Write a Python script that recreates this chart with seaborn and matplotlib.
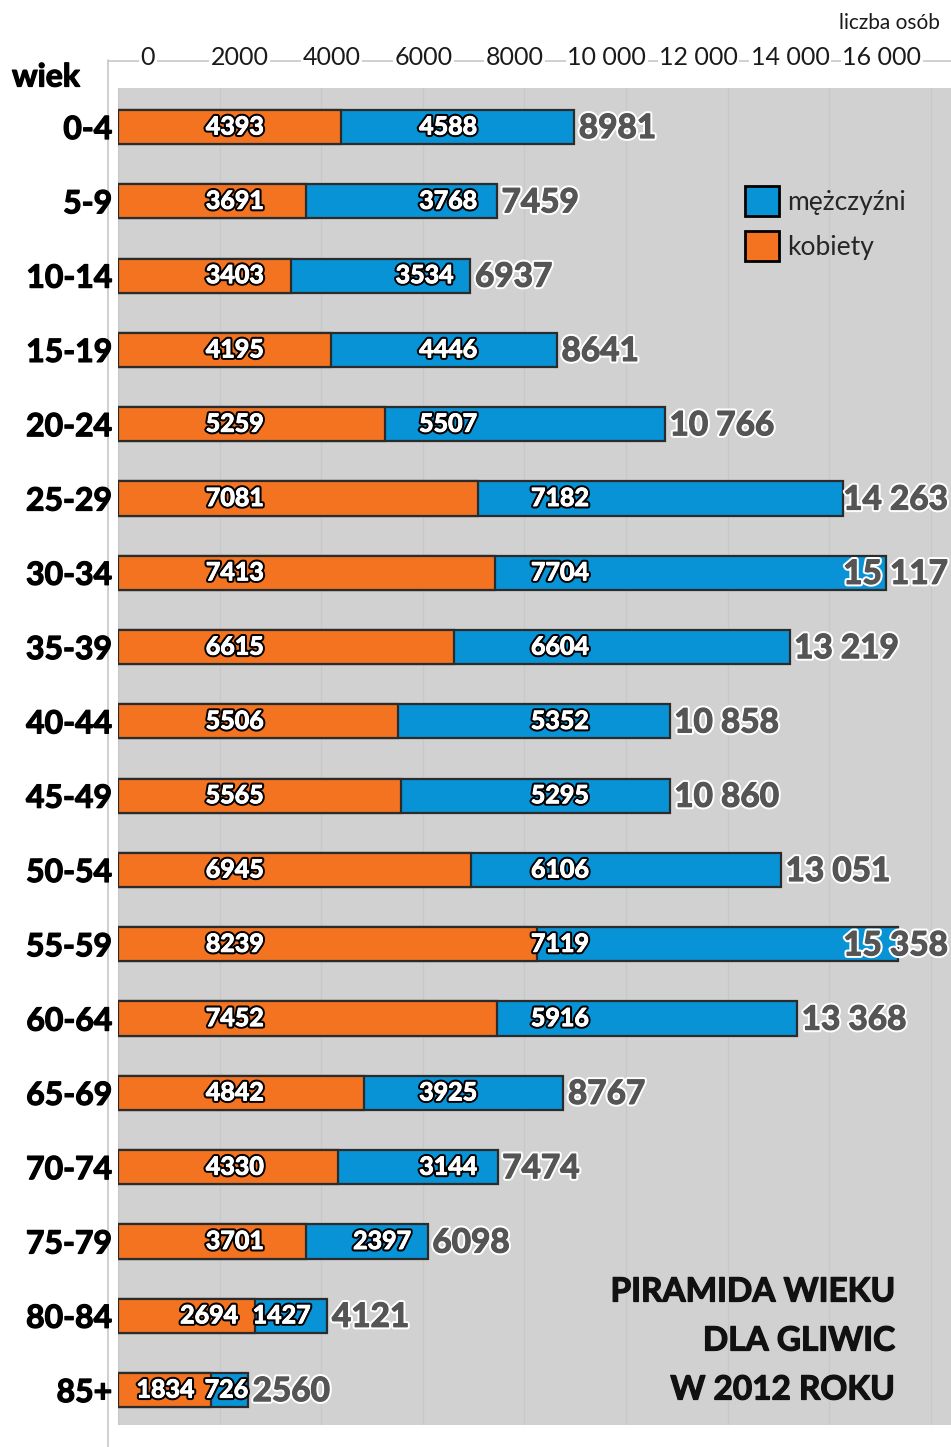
import matplotlib
matplotlib.use("Agg")
import matplotlib.pyplot as plt
import matplotlib.patheffects as pe
from matplotlib.patches import Patch
from matplotlib.lines import Line2D
import seaborn as sns
import pandas as pd

ages = ['0-4', '5-9', '10-14', '15-19', '20-24', '25-29', '30-34', '35-39', '40-44',
        '45-49', '50-54', '55-59', '60-64', '65-69', '70-74', '75-79', '80-84', '85+']
women = [4393, 3691, 3403, 4195, 5259, 7081, 7413, 6615, 5506,
         5565, 6945, 8239, 7452, 4842, 4330, 3701, 2694, 1834]
men = [4588, 3768, 3534, 4446, 5507, 7182, 7704, 6604, 5352,
       5295, 6106, 7119, 5916, 3925, 3144, 2397, 1427, 726]
top_ticks = [0, 2000, 4000, 6000, 8000, 10000, 12000, 14000, 16000]
legend_labels = ['mężczyźni', 'kobiety']
title_lines = ['PIRAMIDA WIEKU', 'DLA GLIWIC', 'W 2012 ROKU']

totals = [w + m for w, m in zip(women, men)]
df = pd.DataFrame({'wiek': ages, 'kobiety': women, 'mezczyzni': men, 'razem': totals})

ORANGE = '#F37321'
BLUE = '#0793D6'
BG = '#D1D1D1'
EDGE = '#2b2b2b'
GRAYTXT = '#555555'

sns.set_style('white')
plt.rcParams['font.family'] = ['Lato', 'DejaVu Sans']

W, H = 951, 1447
fig = plt.figure(figsize=(W / 100, H / 100), dpi=100)

def fx(px):
    return px / W

def fy(py):
    return 1 - py / H

def thick(color, lw=0.9):
    return [pe.withStroke(linewidth=lw, foreground=color)]

left, right, top, bottom = 118, 951, 88, 1425
ax = fig.add_axes([fx(left), fy(bottom), fx(right) - fx(left), fy(top) - fy(bottom)])
ax.set_facecolor(BG)

sns.barplot(data=df, x='razem', y='wiek', orient='h', color=BLUE, saturation=1,
            width=0.46, edgecolor=EDGE, linewidth=1.6, ax=ax, zorder=3)
sns.barplot(data=df, x='kobiety', y='wiek', orient='h', color=ORANGE, saturation=1,
            width=0.46, edgecolor=EDGE, linewidth=1.6, ax=ax, zorder=4)

px_per_unit = 0.0508
ax.set_xlim(0, (right - left) / px_per_unit)
ax.set_ylim(17.47, -0.525)
ax.set_xticks(range(0, 17000, 2000))
ax.set_xticklabels([])
ax.tick_params(axis='x', length=0)
ax.grid(axis='x', color='#c8c8c8', linewidth=1.0, zorder=0)
ax.grid(axis='y', visible=False)
ax.set_axisbelow(True)
ax.set_xlabel('')
ax.set_ylabel('')
for s in ax.spines.values():
    s.set_visible(False)
ax.tick_params(axis='y', length=0, pad=4)
for lab in ax.get_yticklabels():
    lab.set_fontsize(23)
    lab.set_fontweight('bold')
    lab.set_color('black')
    lab.set_path_effects(thick('black'))

def fmt(v):
    s = f"{v:,}".replace(',', ' ')
    return s if v >= 10000 else str(v)

inner_fx = [pe.withStroke(linewidth=3.6, foreground='black'),
            pe.withStroke(linewidth=0.7, foreground='white')]
total_fx = [pe.withStroke(linewidth=3.8, foreground='white'),
            pe.withStroke(linewidth=0.9, foreground=GRAYTXT)]

for i, (w, m, t) in enumerate(zip(women, men, totals)):
    xw = min(2300, w - 900)
    ax.text(xw, i, str(w), ha='center', va='center', fontsize=18, fontweight='bold',
            color='white', path_effects=inner_fx, zorder=6)
    base = 6500 if t < 10800 else 8700
    xm = max(min(base, t - 900), w + 300)
    ax.text(xm, i, str(m), ha='center', va='center', fontsize=18, fontweight='bold',
            color='white', path_effects=inner_fx, zorder=6)
    if t > 14000:
        ax.text(16340, i + 0.02, fmt(t), ha='right', va='center', fontsize=24,
                fontweight='bold', color=GRAYTXT, path_effects=total_fx, zorder=7)
    else:
        ax.text(t + 90, i + 0.02, fmt(t), ha='left', va='center', fontsize=24,
                fontweight='bold', color=GRAYTXT, path_effects=total_fx, zorder=7)

# top axis (scale as printed in the reference)
ax2 = ax.twiny()
top_px_per_unit = (882 - 148) / 16000
ax2.set_xlim(-(148 - left) / top_px_per_unit, (right - 148) / top_px_per_unit)
ax2.set_xticks(top_ticks)
ax2.set_xticklabels([fmt(v) for v in top_ticks])
ax2.tick_params(axis='x', length=0, pad=14, labelsize=18, colors='#1a1a1a')
for lab in ax2.get_xticklabels():
    lab.set_bbox(dict(facecolor='white', edgecolor='none', pad=1.0))
for s in ax2.spines.values():
    s.set_visible(False)
ax2.grid(False)

# frame lines
fig.add_artist(Line2D([fx(108), fx(108)], [fy(60), 0], color='#c8c8c8', lw=1.2, zorder=0))
fig.add_artist(Line2D([fx(108), 1], [fy(61), fy(61)], color='#c8c8c8', lw=1.2, zorder=0))

fig.text(fx(940), fy(23), 'liczba osób', ha='right', va='center', fontsize=15, color='#1a1a1a')
fig.text(fx(12), fy(77), 'wiek', ha='left', va='center', fontsize=23, fontweight='bold',
         color='black', path_effects=thick('black'))

handles = [Patch(facecolor=BLUE, edgecolor='black', linewidth=2),
           Patch(facecolor=ORANGE, edgecolor='black', linewidth=2)]
leg = fig.legend(handles, legend_labels, loc='upper left',
                 bbox_to_anchor=(fx(745), fy(186)), frameon=False, fontsize=19,
                 handlelength=1.3, handleheight=1.35, handletextpad=0.3,
                 labelspacing=0.6, borderpad=0, borderaxespad=0)

for k, line in enumerate(title_lines):
    fig.text(fx(895), fy(1292 + 49 * k), line, ha='right', va='center', fontsize=24,
             fontweight='bold', color='#111111', path_effects=thick('#111111'))

fig.savefig('out.png', dpi=100, facecolor='white')
